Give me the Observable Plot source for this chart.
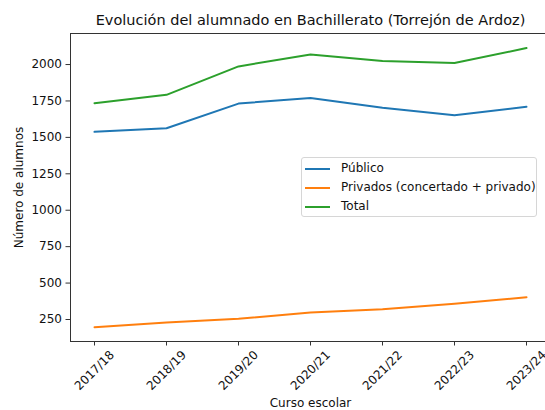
<!DOCTYPE html>
<html>
<head>
<meta charset="utf-8">
<script src="https://cdn.jsdelivr.net/npm/d3@7"></script>
<script src="https://cdn.jsdelivr.net/npm/@observablehq/plot@0.6"></script>
<style>
  html, body { margin: 0; padding: 0; background: #fff; }
  #wrap { position: relative; width: 545px; height: 410px; overflow: hidden; font-family: "DejaVu Sans", sans-serif; }
  #wrap svg { max-width: none !important; }
  #legend { position: absolute; left: 301px; top: 157px; width: 236px; height: 60px; box-sizing: border-box;
    border: 1px solid #d6d6d6; border-radius: 3px; background: rgba(255,255,255,0.8); font-size: 12px; color: #111; }
  .row { position: absolute; left: 0; height: 19px; line-height: 19px; white-space: nowrap; }
  .sw { position: absolute; left: 3px; top: 9px; width: 25px; height: 2px; }
  .lab { position: absolute; left: 39px; top: 0; }
</style>
</head>
<body>
<div id="wrap"></div>
<script>
const cursos = ["2017/18", "2018/19", "2019/20", "2020/21", "2021/22", "2022/23", "2023/24"];
const publico = [1538, 1563, 1732, 1771, 1703, 1652, 1710];
const privados = [197, 229, 255, 298, 321, 358, 403];
const total = [1735, 1792, 1987, 2069, 2024, 2010, 2113];
const series = ["Público", "Privados (concertado + privado)", "Total"];
const colors = ["#1f77b4", "#ff7f0e", "#2ca02c"];
const yTicks = [250, 500, 750, 1000, 1250, 1500, 1750, 2000];

const valores = [publico, privados, total];
const rows = series.flatMap((s, i) => cursos.map((c, j) => ({serie: s, curso: c, valor: valores[i][j]})));

const font = "DejaVu Sans";
const chart = Plot.plot({
  width: 550,
  height: 410,
  marginLeft: 70,
  marginRight: 0,
  marginTop: 33,
  marginBottom: 69,
  style: {fontFamily: font, fontSize: "12px", color: "#111", background: "#fff", overflow: "hidden", maxWidth: "none"},
  x: {type: "point", domain: cursos, padding: 0.3},
  y: {domain: [99, 2213]},
  color: {domain: series, range: colors},
  marks: [
    Plot.line(rows, {x: "curso", y: "valor", z: "serie", stroke: "serie", strokeWidth: 2}),
    Plot.frame({stroke: "#333", strokeWidth: 1}),
    Plot.axisY({ticks: yTicks, tickFormat: d => String(d), tickSize: 4.5, tickPadding: 4, fontSize: 12, label: null, stroke: "#333", fill: "#111"}),
    Plot.axisX({tickSize: 4.5, tickFormat: () => "", label: null, stroke: "#333"}),
    Plot.text(cursos, {x: d => d, text: d => d, frameAnchor: "bottom", dy: 29, rotate: -45, textAnchor: "middle", lineAnchor: "middle", fontSize: 12, fill: "#111"}),
    Plot.text(["Número de alumnos"], {text: d => d, frameAnchor: "left", dx: -51, rotate: -90, textAnchor: "middle", lineAnchor: "middle", fontSize: 12, fill: "#111"}),
    Plot.text(["Curso escolar"], {text: d => d, frameAnchor: "bottom", dy: 62, textAnchor: "middle", lineAnchor: "middle", fontSize: 12, fill: "#111"}),
    Plot.text(["Evolución del alumnado en Bachillerato (Torrejón de Ardoz)"], {text: d => d, frameAnchor: "top", dy: -13, textAnchor: "middle", lineAnchor: "middle", fontSize: 14.5, fill: "#111"})
  ]
});

const wrap = document.getElementById("wrap");
wrap.appendChild(chart);

const legend = document.createElement("div");
legend.id = "legend";
series.forEach((s, i) => {
  const row = document.createElement("div");
  row.className = "row";
  row.style.top = (1 + i * 19) + "px";
  const sw = document.createElement("div");
  sw.className = "sw";
  sw.style.background = colors[i];
  const lab = document.createElement("div");
  lab.className = "lab";
  lab.textContent = s;
  row.appendChild(sw);
  row.appendChild(lab);
  legend.appendChild(row);
});
wrap.appendChild(legend);
</script>
</body>
</html>
